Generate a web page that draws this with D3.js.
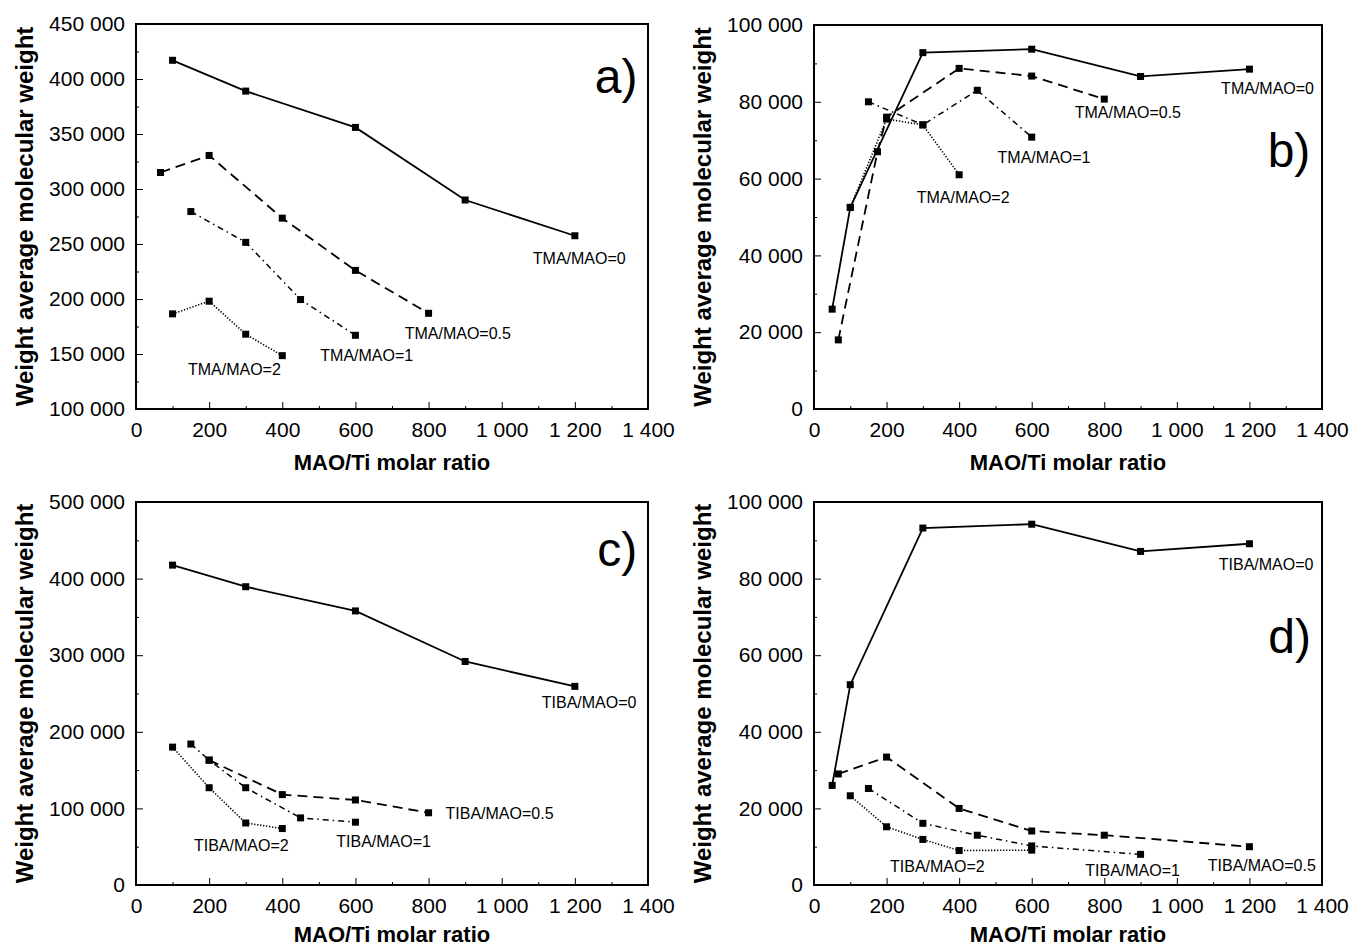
<!DOCTYPE html>
<html>
<head>
<meta charset="utf-8">
<script src="https://cdn.jsdelivr.net/npm/d3@7"></script>
<style>
  body { margin: 0; background: #fff; }
  svg { display: block; }
  text { font-family: "Liberation Sans", Arial, Helvetica, sans-serif; fill: #000; }
  .tick line { stroke: #000; stroke-width: 1; }
</style>
</head>
<body>
<script>
// x ticks shared by all panels
const xTicks = [0, 200, 400, 600, 800, 1000, 1200, 1400]

// panel a) TMA, Mw of polymer 1
const aTMA0 = [[100, 417000], [300, 389000], [600, 356000], [900, 290000], [1200, 257500]]
const aTMA05 = [[67, 315000], [200, 330500], [400, 273500], [600, 226000], [800, 187000]]
const aTMA1 = [[150, 279500], [300, 251500], [450, 199500], [600, 167000]]
const aTMA2 = [[100, 186500], [200, 198000], [300, 168000], [400, 148500]]
const aNames = ['TMA/MAO=0', 'TMA/MAO=0.5', 'TMA/MAO=1', 'TMA/MAO=2']
const aYTicks = [100000, 150000, 200000, 250000, 300000, 350000, 400000, 450000]

// panel b) TMA, Mw of polymer 2
const bTMA0 = [[50, 26000], [100, 52500], [300, 92800], [600, 93700], [900, 86600], [1200, 88500]]
const bTMA05 = [[67, 18000], [175, 67000], [200, 76000], [400, 88700], [600, 86700], [800, 80700]]
const bTMA1 = [[150, 80000], [300, 74000], [450, 83000], [600, 70800]]
const bTMA2 = [[100, 52500], [200, 75500], [300, 74000], [400, 61000]]
const bNames = ['TMA/MAO=0', 'TMA/MAO=0.5', 'TMA/MAO=1', 'TMA/MAO=2']
const bYTicks = [0, 20000, 40000, 60000, 80000, 100000]

// panel c) TIBA, Mw of polymer 1
const cTIBA0 = [[100, 417600], [300, 389400], [600, 357800], [900, 291800], [1200, 259300]]
const cTIBA05 = [[200, 163000], [400, 118000], [600, 111000], [800, 94300]]
const cTIBA1 = [[150, 184000], [200, 163000], [300, 127000], [450, 87600], [600, 82000]]
const cTIBA2 = [[100, 180000], [200, 127000], [300, 81000], [400, 73700]]
const cNames = ['TIBA/MAO=0', 'TIBA/MAO=0.5', 'TIBA/MAO=1', 'TIBA/MAO=2']
const cYTicks = [0, 100000, 200000, 300000, 400000, 500000]

// panel d) TIBA, Mw of polymer 2
const dTIBA0 = [[50, 26000], [100, 52300], [300, 93200], [600, 94200], [900, 87100], [1200, 89100]]
const dTIBA05 = [[67, 29000], [200, 33400], [400, 20000], [600, 14100], [800, 13000], [1200, 10000]]
const dTIBA1 = [[150, 25200], [300, 16100], [450, 13000], [600, 10200], [900, 8000]]
const dTIBA2 = [[100, 23300], [200, 15200], [300, 11900], [400, 9000], [600, 9100]]
const dNames = ['TIBA/MAO=0', 'TIBA/MAO=0.5', 'TIBA/MAO=1', 'TIBA/MAO=2']
const dYTicks = [0, 20000, 40000, 60000, 80000, 100000]

const lineStyles = [
  {dash: null, width: 1.8},
  {dash: '10,6', width: 1.8},
  {dash: '6,4,1.5,4', width: 1.5},
  {dash: '1.3,1.7', width: 1.6}
]

// frame boxes + where the series labels sit (data units)
const panels = [
  {tag: 'a)', tagAt: [1313, 402000], box: [136, 648, 24, 409], yDomain: [100000, 450000], yTicks: aYTicks,
   series: [aTMA0, aTMA05, aTMA1, aTMA2], names: aNames,
   labelAt: [[1212, 237000], [880, 169000], [631, 148500], [269, 135700]]},
  {tag: 'b)', tagAt: [1309, 67200], box: [814, 1322, 25, 409], yDomain: [0, 100000], yTicks: bYTicks,
   series: [bTMA0, bTMA05, bTMA1, bTMA2], names: bNames,
   labelAt: [[1250, 83500], [865, 77200], [634, 65500], [411, 55200]]},
  {tag: 'c)', tagAt: [1316, 438000], box: [136, 648, 502, 885], yDomain: [0, 500000], yTicks: cYTicks,
   series: [cTIBA0, cTIBA05, cTIBA1, cTIBA2], names: cNames,
   labelAt: [[1239, 238500], [994, 93200], [677, 56400], [288, 51000]]},
  {tag: 'd)', tagAt: [1311, 64900], box: [814, 1322, 502, 885], yDomain: [0, 100000], yTicks: dYTicks,
   series: [dTIBA0, dTIBA05, dTIBA1, dTIBA2], names: dNames,
   labelAt: [[1246, 83600], [1234, 5200], [878, 3900], [340, 4800]]}
]

const fmt = v => d3.format(',')(v).replace(/,/g, ' ')

let svg = d3.select('body').append('svg')
.attr('width', 1352)
.attr('height', 947)

svg.append('rect').attr('width', 1352).attr('height', 947).attr('fill', '#fff')

panels.forEach(p => {

  let [x0, x1, y0, y1] = p.box

  let x = d3.scaleLinear().domain([0, 1400]).range([x0, x1])
  let y = d3.scaleLinear().domain(p.yDomain).range([y1, y0])

  let g = svg.append('g')

  // minor ticks (halfway between labelled ones)
  let yStep = p.yTicks[1] - p.yTicks[0]
  let yMinor = p.yTicks.slice(0, -1).map(t => t + yStep / 2)

  g.append('g')
  .attr('transform', `translate(0,${y1})`)
  .call(d3.axisBottom(x).tickValues(xTicks.slice(0, -1).map(t => t + 100)).tickSize(-3).tickFormat(''))
  .call(s => s.select('.domain').remove())

  g.append('g')
  .attr('transform', `translate(${x0},0)`)
  .call(d3.axisLeft(y).tickValues(yMinor).tickSize(-3).tickFormat(''))
  .call(s => s.select('.domain').remove())

  // labelled axes
  g.append('g')
  .attr('transform', `translate(0,${y1})`)
  .call(d3.axisBottom(x).tickValues(xTicks).tickSizeInner(-7).tickSizeOuter(0).tickPadding(13).tickFormat(fmt))
  .call(s => s.select('.domain').remove())
  .selectAll('text').attr('font-size', 21).attr('font-family', null)

  g.append('g')
  .attr('transform', `translate(${x0},0)`)
  .call(d3.axisLeft(y).tickValues(p.yTicks).tickSizeInner(-7).tickSizeOuter(0).tickPadding(11).tickFormat(fmt))
  .call(s => s.select('.domain').remove())
  .selectAll('text').attr('font-size', 21).attr('font-family', null)

  g.selectAll('.tick line').filter(d => d === 0 || d === p.yDomain[0]).remove()

  // frame
  g.append('rect')
  .attr('x', x0).attr('y', y0)
  .attr('width', x1 - x0).attr('height', y1 - y0)
  .attr('fill', 'none').attr('stroke', '#000').attr('stroke-width', 2)

  // axis titles (bottom row sits right at the page edge)
  g.append('text')
  .attr('x', (x0 + x1) / 2).attr('y', Math.min(y1 + 61, 942))
  .attr('text-anchor', 'middle')
  .attr('font-size', 22).attr('font-weight', 'bold')
  .text('MAO/Ti molar ratio')

  g.append('text')
  .attr('transform', `translate(${x0 - 112},${(y0 + y1) / 2}) rotate(-90)`)
  .attr('text-anchor', 'middle').attr('dominant-baseline', 'central')
  .attr('font-size', 24).attr('font-weight', 'bold')
  .text('Weight average molecular weight')

  let line = d3.line().x(d => x(d[0])).y(d => y(d[1]))

  p.series.forEach((s, i) => {
    let st = lineStyles[i]
    g.append('path')
    .datum(s)
    .attr('d', line)
    .attr('fill', 'none')
    .attr('stroke', '#000')
    .attr('stroke-width', st.width)
    .attr('stroke-dasharray', st.dash)

    g.selectAll(null)
    .data(s)
    .enter()
    .append('rect')
    .attr('x', d => x(d[0]) - 3.5)
    .attr('y', d => y(d[1]) - 3.5)
    .attr('width', 7).attr('height', 7)
    .attr('fill', '#000')

    g.append('text')
    .attr('x', x(p.labelAt[i][0])).attr('y', y(p.labelAt[i][1]))
    .attr('text-anchor', 'middle').attr('dominant-baseline', 'central')
    .attr('font-size', 16)
    .text(p.names[i])
  })

  g.append('text')
  .attr('x', x(p.tagAt[0])).attr('y', y(p.tagAt[1]))
  .attr('text-anchor', 'middle').attr('dominant-baseline', 'central')
  .attr('font-size', 48)
  .text(p.tag)
})
</script>
</body>
</html>
